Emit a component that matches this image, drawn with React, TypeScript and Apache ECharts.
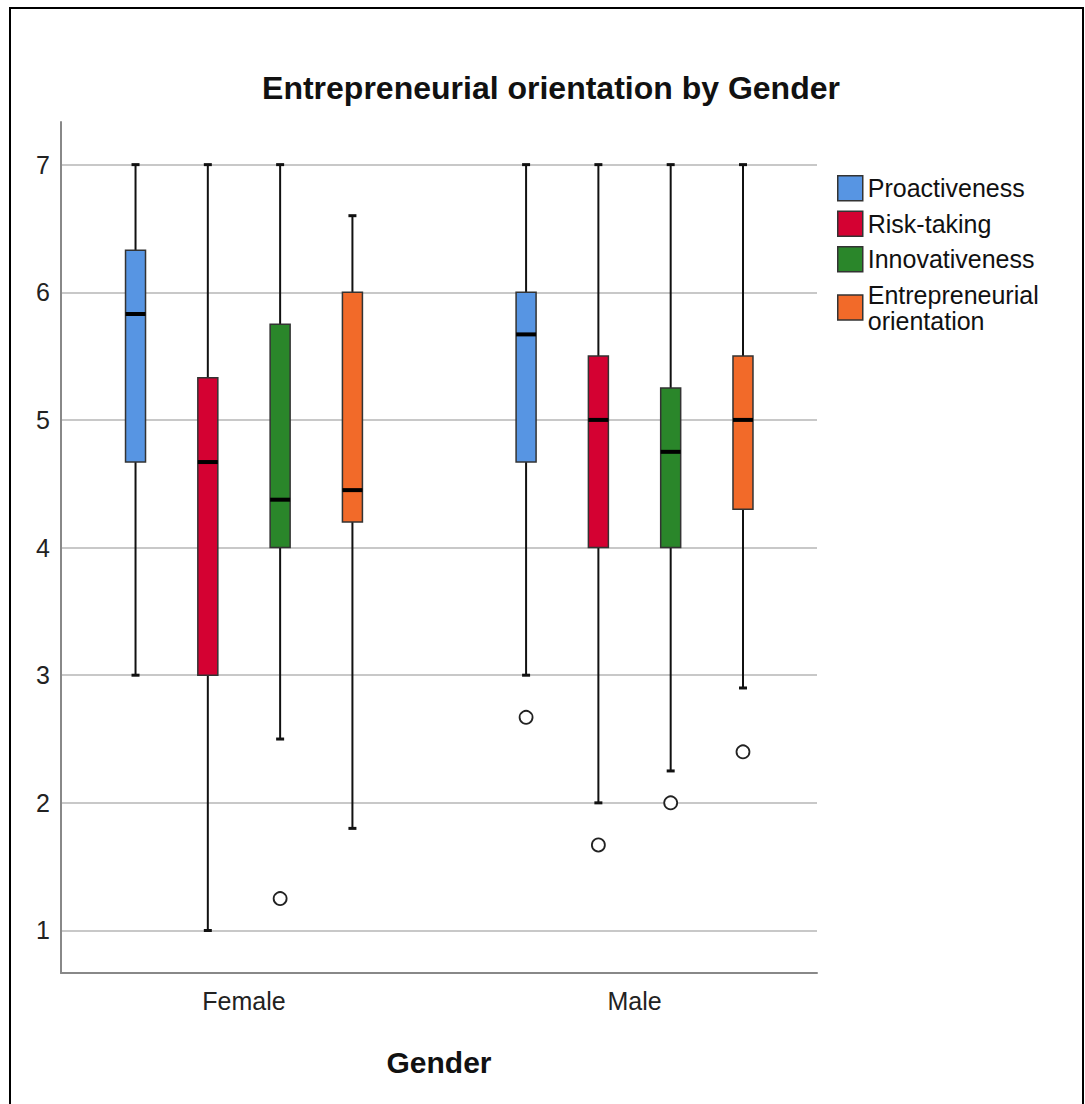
import React, { useEffect, useRef } from 'react';
import * as echarts from 'echarts';

const GENDERS = ['Female', 'Male'];
const VARIABLES = ['Proactiveness', 'Risk-taking', 'Innovativeness', 'Entrepreneurial orientation'];
const LEGEND_LABELS = ['Proactiveness', 'Risk-taking', 'Innovativeness', 'Entrepreneurial\norientation'];
const COLORS = ['#5795e3', '#d40132', '#2a862a', '#f26a29'];

// [min whisker, Q1, median, Q3, max whisker] for Female, Male
const PROACTIVENESS = [[3, 4.67, 5.83, 6.33, 7], [3, 4.67, 5.67, 6, 7]];
const RISK_TAKING = [[1, 3, 4.67, 5.33, 7], [2, 4, 5, 5.5, 7]];
const INNOVATIVENESS = [[2.5, 4, 4.375, 5.75, 7], [2.25, 4, 4.75, 5.25, 7]];
const ENTREPRENEURIAL = [[1.8, 4.2, 4.45, 6, 6.6], [2.9, 4.3, 5, 5.5, 7]];
const BOX_STATS = [PROACTIVENESS, RISK_TAKING, INNOVATIVENESS, ENTREPRENEURIAL];

// [gender index, variable index, value]
const OUTLIERS = [
  [0, 2, 1.25],
  [1, 0, 2.67],
  [1, 1, 1.67],
  [1, 2, 2],
  [1, 3, 2.4],
];

const FONT = '"Liberation Sans", Arial, sans-serif';
const SLOT_PX = 72.3;
const BOX_W = 20;
const CAP_W = 8;

function renderBox(params: any, api: any) {
  const g = api.value(0);
  const off = (params.seriesIndex - 1.5) * SLOT_PX;
  const yOf = (v: number) => api.coord([g, v])[1];
  const cx = api.coord([g, 0])[0] + off;
  const yMin = yOf(api.value(1));
  const yQ1 = yOf(api.value(2));
  const yMed = yOf(api.value(3));
  const yQ3 = yOf(api.value(4));
  const yMax = yOf(api.value(5));
  const color = api.visual('color');
  const ws = { stroke: '#111', lineWidth: 2 };
  const cs = { stroke: '#111', lineWidth: 3 };
  return {
    type: 'group',
    children: [
      { type: 'line', shape: { x1: cx, y1: yQ3, x2: cx, y2: yMax }, style: ws },
      { type: 'line', shape: { x1: cx, y1: yQ1, x2: cx, y2: yMin }, style: ws },
      { type: 'line', shape: { x1: cx - CAP_W / 2, y1: yMax, x2: cx + CAP_W / 2, y2: yMax }, style: cs },
      { type: 'line', shape: { x1: cx - CAP_W / 2, y1: yMin, x2: cx + CAP_W / 2, y2: yMin }, style: cs },
      {
        type: 'rect',
        shape: { x: cx - BOX_W / 2, y: yQ3, width: BOX_W, height: yQ1 - yQ3 },
        style: { fill: color, stroke: '#333', lineWidth: 1.5 },
      },
      { type: 'line', shape: { x1: cx - BOX_W / 2, y1: yMed, x2: cx + BOX_W / 2, y2: yMed }, style: { stroke: '#000', lineWidth: 4 } },
    ],
  };
}

function renderOutlier(params: any, api: any) {
  const g = api.value(0);
  const v = api.value(1);
  const p = api.coord([g, api.value(2)]);
  const off = (v - 1.5) * SLOT_PX;
  return {
    type: 'circle',
    shape: { cx: p[0] + off, cy: p[1], r: 6.5 },
    style: { fill: '#fff', stroke: '#222', lineWidth: 1.8 },
  };
}

export default function App() {
  const ref = useRef<HTMLDivElement>(null);
  useEffect(() => {
    document.body.style.margin = '0';
    const chart = echarts.init(ref.current!, null, { renderer: 'svg' });
    const boxSeries = VARIABLES.map((name, i) => ({
      name,
      type: 'custom',
      renderItem: renderBox,
      itemStyle: { color: COLORS[i] },
      encode: { x: 0, y: [1, 2, 3, 4, 5] },
      data: BOX_STATS[i].map((s, g) => [g, ...s]),
      z: 3,
    }));
    chart.setOption({
      animation: false,
      backgroundColor: '#fff',
      title: {
        text: 'Entrepreneurial orientation by Gender',
        left: 546,
        textAlign: 'center',
        top: 67,
        textStyle: { fontFamily: FONT, fontSize: 32, fontWeight: 'bold', color: '#111' },
      },
      legend: {
        data: VARIABLES,
        orient: 'vertical',
        left: 832,
        top: 170,
        itemWidth: 25,
        itemHeight: 25,
        itemGap: 9,
        icon: 'rect',
        itemStyle: { borderColor: '#333', borderWidth: 1.5 },
        formatter: (name: string) => LEGEND_LABELS[VARIABLES.indexOf(name)],
        textStyle: { fontFamily: FONT, fontSize: 25, lineHeight: 26, color: '#111' },
      },
      grid: { left: 61, right: 268, top: 122, bottom: 131, containLabel: false },
      xAxis: {
        type: 'value',
        min: -0.4685,
        max: 1.4672,
        splitNumber: 2,
        splitLine: { show: false },
        axisTick: { show: false },
        axisLine: { show: true, onZero: false, lineStyle: { color: '#888', width: 2 } },
        axisLabel: {
          margin: 15,
          fontFamily: FONT,
          fontSize: 25,
          color: '#222',
          formatter: (v: number) => {
            const r = Math.round(v);
            return Math.abs(v - r) < 1e-6 && GENDERS[r] !== undefined ? GENDERS[r] : '';
          },
        },
        name: 'Gender',
        nameLocation: 'middle',
        nameGap: 74,
        nameTextStyle: { fontFamily: FONT, fontSize: 30, fontWeight: 'bold', color: '#111' },
      },
      yAxis: {
        type: 'value',
        min: 0.667,
        max: 7.334,
        splitLine: { show: true, showMinLine: false, showMaxLine: false, lineStyle: { color: '#c8c8c8', width: 2 } },
        axisTick: { show: false },
        axisLine: { show: true, onZero: false, lineStyle: { color: '#888', width: 2 } },
        axisLabel: {
          margin: 11,
          fontFamily: FONT,
          fontSize: 25,
          color: '#222',
          formatter: (v: number) => (Math.abs(v - Math.round(v)) < 1e-6 ? String(Math.round(v)) : ''),
        },
      },
      graphic: [
        {
          type: 'rect',
          silent: true,
          shape: { x: 10, y: 8, width: 1073, height: 1110 },
          style: { fill: 'none', stroke: '#000', lineWidth: 2 },
        },
      ],
      series: [
        ...boxSeries,
        {
          name: 'Outliers',
          type: 'custom',
          renderItem: renderOutlier,
          encode: { x: 0, y: 2 },
          data: OUTLIERS,
          z: 4,
        },
      ],
    });
    return () => chart.dispose();
  }, []);
  return <div ref={ref} style={{ width: 1085, height: 1104 }} />;
}
